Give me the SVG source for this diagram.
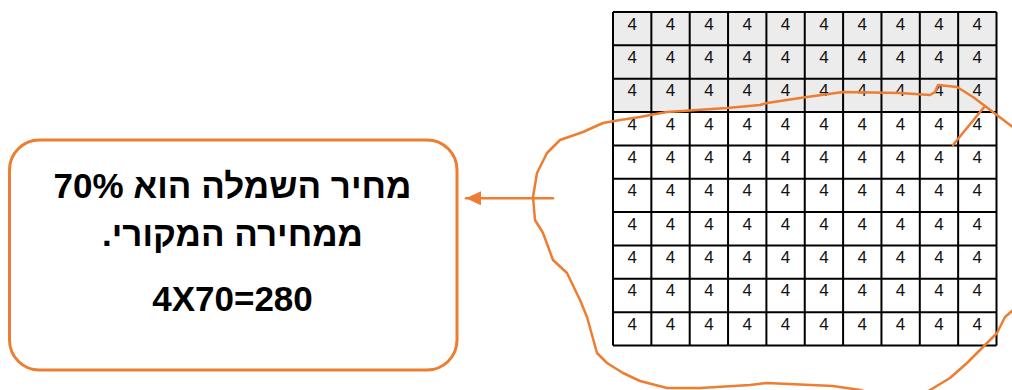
<svg xmlns="http://www.w3.org/2000/svg" width="1012" height="390" viewBox="0 0 1012 390">
<style>
.grid{stroke:#000;stroke-width:2;fill:none}
.d{font-family:"Liberation Sans","DejaVu Sans",sans-serif;font-size:17px;fill:#111;text-anchor:middle}
.or{stroke:#ED7D31;stroke-width:2.5;fill:none;stroke-linecap:round;stroke-linejoin:round}
.t{font-family:"Liberation Sans",Arial,"DejaVu Sans",sans-serif;font-size:35px;font-weight:700;fill:#000;text-anchor:middle}
</style>
<defs>
<marker id="ah" markerWidth="16" markerHeight="14" refX="15" refY="7" orient="auto" markerUnits="userSpaceOnUse">
<path d="M0,0 L15,7 L0,14 Z" fill="#ED7D31"/>
</marker>
</defs>
<rect width="1012" height="390" fill="#fff"/>
<g id="grid">
<rect x="613" y="12" width="383.5" height="100" fill="#ececec"/>
<path class="grid" d="M613,12V345.5M651.35,12V345.5M689.7,12V345.5M728.05,12V345.5M766.4,12V345.5M804.75,12V345.5M843.1,12V345.5M881.45,12V345.5M919.8,12V345.5M958.15,12V345.5M996.5,12V345.5M613,12H996.5M613,45.35H996.5M613,78.7H996.5M613,112.05H996.5M613,145.4H996.5M613,178.75H996.5M613,212.1H996.5M613,245.45H996.5M613,278.8H996.5M613,312.15H996.5M613,345.5H996.5"/>
<text class="d" x="632.2 670.5 708.9 747.2 785.6 823.9 862.3 900.6 939.0 977.3" y="29.5">4444444444</text>
<text class="d" x="632.2 670.5 708.9 747.2 785.6 823.9 862.3 900.6 939.0 977.3" y="62.9">4444444444</text>
<text class="d" x="632.2 670.5 708.9 747.2 785.6 823.9 862.3 900.6 939.0 977.3" y="96.2">4444444444</text>
<text class="d" x="632.2 670.5 708.9 747.2 785.6 823.9 862.3 900.6 939.0 977.3" y="129.6">4444444444</text>
<text class="d" x="632.2 670.5 708.9 747.2 785.6 823.9 862.3 900.6 939.0 977.3" y="162.9">4444444444</text>
<text class="d" x="632.2 670.5 708.9 747.2 785.6 823.9 862.3 900.6 939.0 977.3" y="196.3">4444444444</text>
<text class="d" x="632.2 670.5 708.9 747.2 785.6 823.9 862.3 900.6 939.0 977.3" y="229.6">4444444444</text>
<text class="d" x="632.2 670.5 708.9 747.2 785.6 823.9 862.3 900.6 939.0 977.3" y="263.0">4444444444</text>
<text class="d" x="632.2 670.5 708.9 747.2 785.6 823.9 862.3 900.6 939.0 977.3" y="296.3">4444444444</text>
<text class="d" x="632.2 670.5 708.9 747.2 785.6 823.9 862.3 900.6 939.0 977.3" y="329.7">4444444444</text>
</g>
<g id="loop">
<path class="or" d="M985,106 L973,97 L957,87 L938,85 L935,92 L930,95 L900,93 L843,92 L800,98 L767,103 L760,105 L727,108 L667,112 L650,115 L640,117 L620,120 L603,123 L583,132 L560,140 L547,153 L537,173 L533,197 L535,220 L543,233 L553,260 L567,273 L580,300 L587,317 L597,353 L607,363 L623,373 L640,381 L667,388 L700,388 L750,385 L767,383 L833,386 L860,390 L880,396 L920,396 L930,390 L950,378 L967,363 L983,347 L997,333 L1005,317 L1012,311 L1020,300"/>
<path class="or" d="M985,106 L1010,125 L1020,132"/>
<path class="or" d="M985,106 L953,145"/>
</g>
<g id="connectors">
<path class="or" d="M553,198.3 H466" marker-end="url(#ah)"/>
</g>
<g id="box">
<rect x="9.5" y="140" width="447.5" height="230" rx="30" ry="30" fill="#fff" stroke="#ED7D31" stroke-width="3"/>
<text class="t" x="232.5" y="198" direction="rtl">מחיר השמלה הוא 70%</text>
<text class="t" x="232.5" y="246" direction="rtl">ממחירה המקורי.</text>
<text class="t" x="232.5" y="311">4X70=280</text>
</g>
</svg>
